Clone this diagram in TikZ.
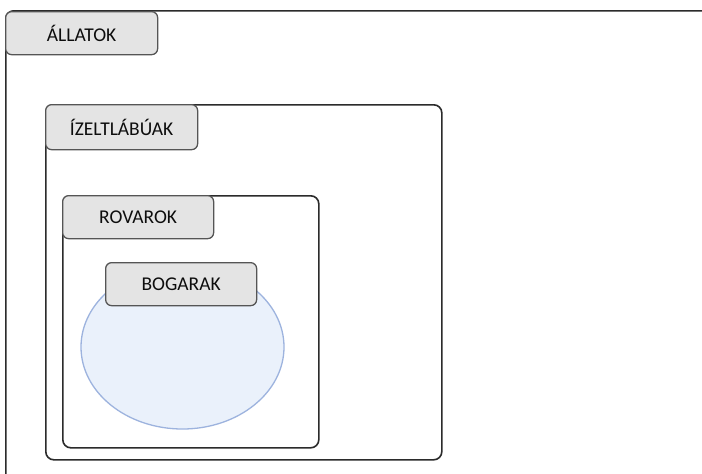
\documentclass[tikz,border=0pt]{standalone}
\usepackage{fontspec}
\setmainfont{Carlito}
\usetikzlibrary{shapes.geometric}
\definecolor{tabfill}{HTML}{E4E4E4}
\definecolor{tabline}{HTML}{555555}
\definecolor{boxline}{HTML}{2B2B2B}
\definecolor{ellfill}{HTML}{EAF1FB}
\definecolor{ellline}{HTML}{9DB3DE}
\tikzset{
  container/.style={draw=boxline, line width=1.6pt, rounded corners=8pt, fill=white, inner sep=0pt, anchor=north west},
  tabbox/.style={draw=tabline, line width=1.3pt, rounded corners=6pt, fill=tabfill, inner sep=0pt, anchor=north west,
    minimum height=43pt, font=\fontsize{19.5}{21}\selectfont, text=black!95},
  setshape/.style={ellipse, draw=ellline, line width=1.3pt, fill=ellfill, inner sep=0pt}
}
\begin{document}
\begin{tikzpicture}[x=1pt,y=-1pt]
\useasboundingbox (0,0) rectangle (702,474);
\fill[white] (0,0) rectangle (702,474);
\clip (0,0) rectangle (702,474);
\node[container, minimum width=800pt, minimum height=600pt] (allatokbox) at (5,10) {};
\node[tabbox, minimum width=152pt] (allatok) at (5,11) {ÁLLATOK};
\node[container, minimum width=396pt, minimum height=355pt] (izeltbox) at (45,104) {};
\node[tabbox, minimum width=152pt, minimum height=45pt] (izelt) at (45,104) {ÍZELTLÁBÚAK};
\node[container, minimum width=256pt, minimum height=252pt] (rovarbox) at (62,195) {};
\node[tabbox, minimum width=151pt] (rovar) at (62,195) {ROVAROK};
\node[setshape, minimum width=203pt, minimum height=164pt] (bogarset) at (182.5,347) {};
\node[tabbox, minimum width=151pt] (bogar) at (105,262) {BOGARAK};
\end{tikzpicture}
\end{document}
